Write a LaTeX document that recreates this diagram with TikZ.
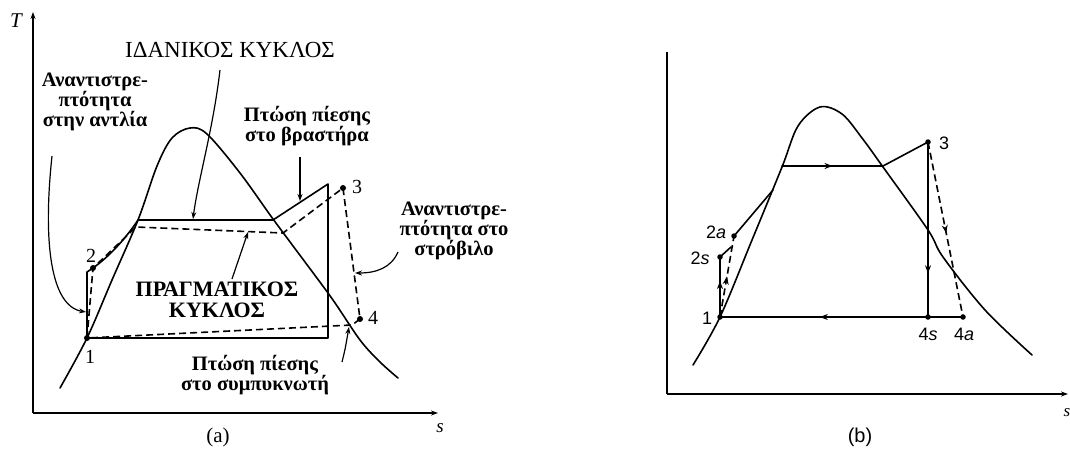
\documentclass[tikz,border=0pt]{standalone}
\usepackage{fontspec}
\setmainfont{Liberation Serif}
\newfontfamily\lblsans{Liberation Sans}
\usetikzlibrary{arrows.meta,decorations.markings}
\begin{document}
\begin{tikzpicture}[x=1pt,y=-1pt,
  ln/.style={line width=1.6pt, line join=round, line cap=round},
  dsh/.style={line width=1.6pt, dash pattern=on 7pt off 4pt},
  lead/.style={line width=1.2pt, -{Stealth[length=7pt,width=5pt]}},
  axis/.style={line width=1.4pt},
  dotA/.style={circle, fill, inner sep=0pt, minimum size=6pt},
  dotB/.style={circle, fill, inner sep=0pt, minimum size=5.5pt},
  lbl/.style={font=\bfseries\fontsize{20.5}{20}\selectfont, align=center, inner sep=0pt},
  caps/.style={font=\fontsize{23}{22}\selectfont, align=center, inner sep=0pt},
  num/.style={font=\fontsize{20}{20}\selectfont, inner sep=0pt},
  blbl/.style={font=\lblsans\fontsize{18}{18}\selectfont, inner sep=0pt},
  midarrow/.style={postaction={decorate}, decoration={markings, mark=at position #1 with {\arrow{Stealth[length=8pt,width=6pt]}}}}
]
\useasboundingbox (0,0) rectangle (1070,461);

% ================= panel (a) =================
\coordinate (aO) at (33,413);
\coordinate (aT) at (33,12);
\coordinate (aS) at (438,413);
\draw[axis,-{Stealth[length=7pt,width=5pt]}] (aO) -- (aT);
\draw[axis,-{Stealth[length=7pt,width=5pt]}] (aO) -- (aS);
\node[font=\itshape\fontsize{21}{21}\selectfont] (Ta) at (16,21) {T};
\node[font=\itshape\fontsize{19}{19}\selectfont] (sa) at (440,428) {s};

% vapour dome
\draw[ln] plot[smooth, tension=0.55] coordinates {(60,388) (87,338) (112,280) (138,220) (157,166) (172,138) (190,128) (207,134) (240,173) (273,219) (305,262) (333,300) (360,340) (380,362) (398,378)};

% state points
\node[dotA] (p1) at (87,338) {};
\node[dotA] (p2) at (93,268) {};
\node[dotA] (p3) at (343,188) {};
\node[dotA] (p4) at (360,319) {};
\coordinate (p2i) at (87,272);
\coordinate (f) at (138,220);
\coordinate (g) at (273,220);
\coordinate (p3i) at (328,184);
\coordinate (p4i) at (328,338);
\coordinate (fa) at (136,227);
\coordinate (ga) at (283,233);
\coordinate (h) at (352,325);

% ideal cycle
\draw[ln] (p1.center) -- (p2i) -- (p2.center) .. controls (110,256) and (126,238) .. (f) -- (g) -- (p3i) -- (p4i) -- (p1.center);
% actual cycle
\draw[dsh] (p1.center) -- (p2.center) -- (fa) -- (ga) -- (p3.center) -- (p4.center) -- (h) -- (p1.center);

\node[num] (n1) at (90,357) {1};
\node[num] (n2) at (91,256) {2};
\node[num] (n3) at (357,187) {3};
\node[num] (n4) at (373,318) {4};

% labels and leaders
\node[caps] (ideal) at (230,50) {ΙΔΑΝΙΚΟΣ ΚΥΚΛΟΣ};
\coordinate (tIdeal) at (193,219);
\draw[lead] (220,70) .. controls (213,130) and (198,180) .. (tIdeal);

\node[lbl] (pump) at (95,102) {Αναντιστρε-\\πτότητα\\στην αντλία};
\coordinate (tPump) at (86,312);
\draw[lead] (52,156) .. controls (43,240) and (50,306) .. (tPump);

\node[lbl] (boil) at (307,126) {Πτώση πίεσης\\στο βραστήρα};
\coordinate (tBoil) at (300,201);
\draw[lead] (300,157) -- (tBoil);

\node[lbl] (turb) at (454,231) {Αναντιστρε-\\πτότητα στο\\στρόβιλο};
\coordinate (tTurb) at (355,273);
\draw[lead] (398,252) .. controls (391,268) and (376,273) .. (tTurb);

\node[caps, font=\bfseries\fontsize{22}{21}\selectfont] (real) at (217,300) {ΠΡΑΓΜΑΤΙΚΟΣ\\ΚΥΚΛΟΣ};
\coordinate (tReal) at (248,232);
\draw[lead] (232,279) -- (tReal);

\node[lbl] (cond) at (255,375) {Πτώση πίεσης\\στο συμπυκνωτή};
\coordinate (tCond) at (349,327);
\draw[lead] (342,362) .. controls (345,350) .. (tCond);

\node[font=\fontsize{21}{21}\selectfont] (capA) at (218,437) {(a)};

% ================= panel (b) =================
\coordinate (bO) at (667,394);
\coordinate (bT) at (667,52);
\coordinate (bS) at (1068,394);
\draw[axis] (bO) -- (bT);
\draw[axis,-{Stealth[length=7pt,width=5pt]}] (bO) -- (bS);
\node[font=\itshape\fontsize{17}{17}\selectfont] (sb) at (1067,413) {s};

\draw[ln] plot[smooth, tension=0.55] coordinates {(693,365) (720,317) (752,240) (782,167) (798,126) (820,107) (842,114) (862,138) (883,167) (928,230) (943,257) (985,310) (1032,355)};

\node[dotB] (q1) at (720,317) {};
\node[dotB] (q2s) at (720,257) {};
\node[dotB] (q2a) at (734,236) {};
\node[dotB] (q3) at (928,142) {};
\node[dotB] (q4s) at (928,317) {};
\node[dotB] (q4a) at (963,317) {};
\coordinate (qf) at (782,166);
\coordinate (qg) at (883,166);
\coordinate (qj) at (731,247);
\coordinate (qk) at (773,190);

\draw[ln, midarrow=0.6] (q1.center) -- (q2s.center);
\draw[ln] (q2s.center) -- (qj);
\draw[dsh, midarrow=0.5] (q1.center) -- (q2a.center);
\draw[ln] (q2a.center) -- (qk);
\draw[ln, midarrow=0.5] (qf) -- (qg);
\draw[ln] (qg) -- (q3.center);
\draw[ln, midarrow=0.75] (q3.center) -- (q4s.center);
\draw[dsh, midarrow=0.52] (q3.center) -- (q4a.center);
\draw[ln] (q4a.center) -- (q4s.center);
\draw[ln, midarrow=0.52] (q4s.center) -- (q1.center);

\node[blbl] (m1) at (707,318) {1};
\node[blbl] (m2s) at (700,258) {2\textit{s}};
\node[blbl] (m2a) at (716,232) {2\textit{a}};
\node[blbl] (m3) at (944,143) {3};
\node[blbl] (m4s) at (928,334) {4\textit{s}};
\node[blbl] (m4a) at (964,334) {4\textit{a}};

\node[font=\lblsans\fontsize{20}{20}\selectfont] (capB) at (860,437) {(b)};
\end{tikzpicture}
\end{document}
